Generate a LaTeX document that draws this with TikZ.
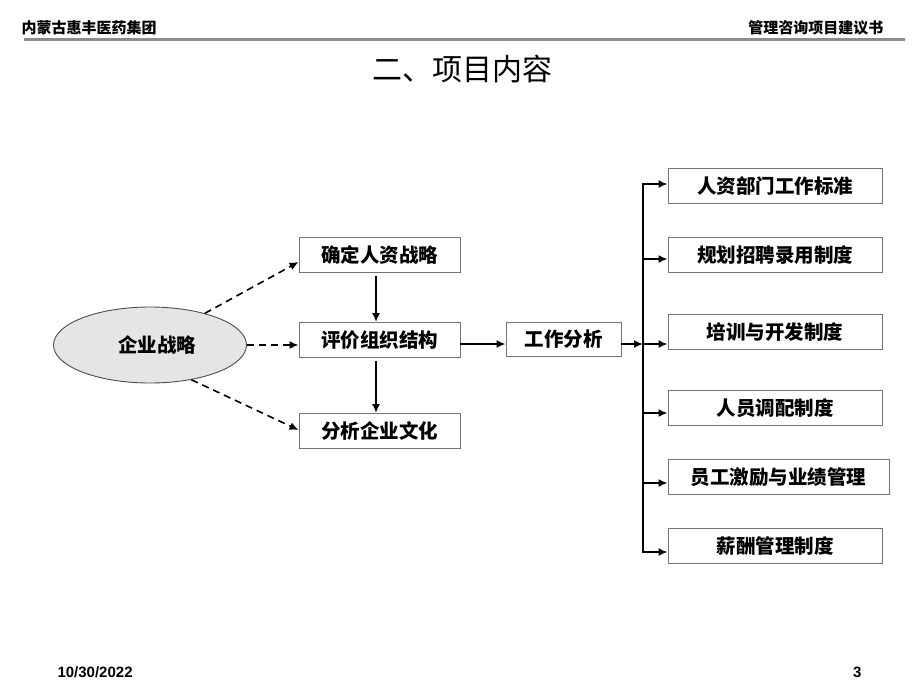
\documentclass[tikz,border=0pt]{standalone}
\usepackage{fontspec}
\setmainfont{Liberation Sans}
\newfontfamily\cjk{Noto Sans CJK SC}
\newcommand\cjkb{\cjk\bfseries}
\usetikzlibrary{arrows.meta,shapes.geometric}
\begin{document}
\begin{tikzpicture}[x=1pt,y=-1pt,
  box/.style={draw=black!55,line width=0.9pt,fill=white,inner sep=0pt,font=\cjkb\fontsize{19.5}{22}\selectfont},
  solidarr/.style={line width=2.6pt,-{Latex[length=9pt,width=8pt]}},
  dasharr/.style={line width=1.6pt,dash pattern=on 7pt off 5pt,-{Latex[length=9pt,width=8pt]}},
  hdr/.style={font=\cjkb\fontsize{15}{17}\selectfont}]
\useasboundingbox (0,0) rectangle (920,690);
% header
\node[hdr,anchor=west] (hl) at (18,28) {内蒙古惠丰医药集团};
\node[hdr,anchor=east] (hr) at (887,28) {管理咨询项目建议书};
\draw[black!45,line width=3pt] (24,40) -- (905,40);
\node[font=\cjk\fontsize{30}{32}\selectfont] (title) at (462,69) {二、项目内容};
% ellipse
\node[draw=black!70,line width=0.9pt,fill=black!10,ellipse,minimum width=193pt,minimum height=76pt,inner sep=0pt,font=\cjkb\fontsize{19.5}{22}\selectfont] (es) at (150,345) {\hspace*{14pt}企业战略};
% left boxes
\node[box,minimum width=161pt,minimum height=35pt] (b1) at (379.5,255) {确定人资战略};
\node[box,minimum width=161pt,minimum height=35pt] (b2) at (379.5,340) {评价组织结构};
\node[box,minimum width=161pt,minimum height=35pt] (b3) at (379.5,431) {分析企业文化};
\node[box,minimum width=115pt,minimum height=34pt] (b4) at (563.5,339) {工作分析};
% right boxes
\node[box,minimum width=214pt,minimum height=35pt] (r1) at (775,186) {人资部门工作标准};
\node[box,minimum width=214pt,minimum height=35pt] (r2) at (775,255) {规划招聘录用制度};
\node[box,minimum width=214pt,minimum height=35pt] (r3) at (775,332) {培训与开发制度};
\node[box,minimum width=214pt,minimum height=35pt] (r4) at (775,408) {人员调配制度};
\node[box,minimum width=221pt,minimum height=35pt] (r5) at (778.5,477) {员工激励与业绩管理};
\node[box,minimum width=214pt,minimum height=35pt] (r6) at (775,546) {薪酬管理制度};
% dashed arrows
\draw[dasharr] (es.30) -- (b1.west |- 0,262);
\draw[dasharr] (es.east) -- (b2.west |- 0,345);
\draw[dasharr] (es.-40) -- (b3.west |- 0,430);
% vertical arrows
\draw[solidarr] ([yshift=-3pt]b1.south -| 376,0) -- (b2.north -| 376,0);
\draw[solidarr] ([yshift=-3pt]b2.south -| 376,0) -- (b3.north -| 376,0);
% to work analysis
\draw[solidarr] (b2.east |- 0,344) -- (b4.west |- 0,344);
% bracket
\coordinate (vt) at (643,184);
\coordinate (vb) at (643,552);
\draw[line width=2.8pt,line cap=rect] (vt) -- (vb);
\draw[solidarr] (b4.east |- 0,344) -- (643,344);
\draw[solidarr] (vt) -- (r1.west |- vt);
\draw[solidarr] (643,259) -- (r2.west |- 0,259);
\draw[solidarr] (643,344) -- (r3.west |- 0,344);
\draw[solidarr] (643,413) -- (r4.west |- 0,413);
\draw[solidarr] (643,483) -- (r5.west |- 0,483);
\draw[solidarr] (vb) -- (r6.west |- vb);
% footer
\node[font=\bfseries\fontsize{15}{17}\selectfont,anchor=west] (date) at (54,672) {10/30/2022};
\node[font=\bfseries\fontsize{15}{17}\selectfont,anchor=east] (pg) at (865,672) {3};
\end{tikzpicture}
\end{document}
